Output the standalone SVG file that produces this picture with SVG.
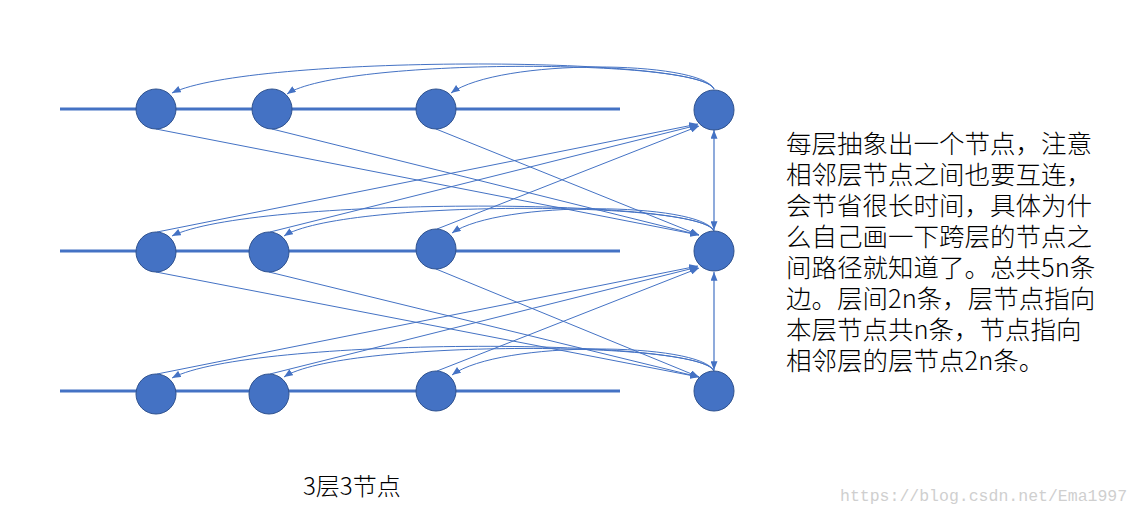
<svg xmlns="http://www.w3.org/2000/svg" width="1141" height="517" viewBox="0 0 1141 517">
<style>
.rail{stroke:#4472C4;stroke-width:3;fill:none}
.node{fill:#4472C4;stroke:#2F528F;stroke-width:1}
.edge{stroke:#4472C4;stroke-width:1;fill:none;marker-end:url(#ah)}
.both{stroke:#4472C4;stroke-width:1.2;fill:none;marker-end:url(#ah);marker-start:url(#ahs)}
.note{font-family:"Noto Sans CJK SC","Noto Sans",sans-serif;font-size:25.5px;font-weight:300;fill:#000}
.cap{font-family:"Noto Sans CJK SC","Noto Sans",sans-serif;font-size:24px;font-weight:300;fill:#000}
.wm{font-family:"Liberation Mono",monospace;font-size:16.5px;fill:#cfcfcf}
</style>
<defs>
<marker id="ah" viewBox="0 0 10 8" refX="10" refY="4" markerWidth="9" markerHeight="7" markerUnits="userSpaceOnUse" orient="auto"><path d="M0,0 L10,4 L0,8 z" fill="#4472C4"/></marker>
<marker id="ahs" viewBox="0 0 10 8" refX="10" refY="4" markerWidth="9" markerHeight="7" markerUnits="userSpaceOnUse" orient="auto-start-reverse"><path d="M0,0 L10,4 L0,8 z" fill="#4472C4"/></marker>
</defs>
<rect width="1141" height="517" fill="#fff"/>
<g id="rails">
<line class="rail" x1="60" y1="109" x2="620" y2="109"/>
<line class="rail" x1="60" y1="251" x2="620" y2="251"/>
<line class="rail" x1="60" y1="391" x2="620" y2="391"/>
</g>
<g id="connectors">
<path class="edge" d="M714,89 C700,55 250,55 172,93"/>
<path class="edge" d="M714,89 C700,58 340,58 287,94"/>
<path class="edge" d="M714,89 C700,60 500,58 451,93"/>
<path class="edge" d="M714,231 C700,197 250,197 172,236"/>
<path class="edge" d="M714,231 C700,200 340,200 284,236"/>
<path class="edge" d="M714,231 C700,202 500,200 452,233"/>
<path class="edge" d="M714,371 C700,337 250,337 172,378"/>
<path class="edge" d="M714,371 C700,340 340,340 284,377"/>
<path class="edge" d="M714,371 C700,342 500,340 452,375"/>
<line class="edge" x1="156" y1="129" x2="699" y2="235"/>
<line class="edge" x1="272" y1="129" x2="699" y2="235"/>
<line class="edge" x1="436" y1="129" x2="699" y2="235"/>
<line class="edge" x1="157" y1="232" x2="698" y2="124"/>
<line class="edge" x1="270" y1="232" x2="698" y2="125"/>
<line class="edge" x1="437" y1="229" x2="699" y2="126"/>
<line class="edge" x1="156" y1="272" x2="699" y2="377"/>
<line class="edge" x1="269" y1="272" x2="699" y2="377"/>
<line class="edge" x1="436" y1="269" x2="699" y2="377"/>
<line class="edge" x1="157" y1="374" x2="698" y2="266"/>
<line class="edge" x1="270" y1="374" x2="698" y2="267"/>
<line class="edge" x1="437" y1="371" x2="699" y2="268"/>
<line class="both" x1="714" y1="130" x2="714" y2="230"/>
<line class="both" x1="714" y1="272" x2="714" y2="370"/>
</g>
<g id="n11"><circle class="node" cx="156" cy="109" r="20"/></g>
<g id="n12"><circle class="node" cx="272" cy="109" r="20"/></g>
<g id="n13"><circle class="node" cx="436" cy="109" r="20"/></g>
<g id="L1"><circle class="node" cx="714" cy="110" r="20"/></g>
<g id="n21"><circle class="node" cx="156" cy="252" r="20"/></g>
<g id="n22"><circle class="node" cx="269" cy="252" r="20"/></g>
<g id="n23"><circle class="node" cx="436" cy="249" r="20"/></g>
<g id="L2"><circle class="node" cx="714" cy="251" r="20"/></g>
<g id="n31"><circle class="node" cx="156" cy="394" r="20"/></g>
<g id="n32"><circle class="node" cx="269" cy="394" r="20"/></g>
<g id="n33"><circle class="node" cx="436" cy="391" r="20"/></g>
<g id="L3"><circle class="node" cx="714" cy="391" r="20"/></g>
<g id="note">
<text class="note" x="786" y="153">每层抽象出一个节点，注意<tspan x="786" dy="31">相邻层节点之间也要互连，</tspan><tspan x="786" dy="31">会节省很长时间，具体为什</tspan><tspan x="786" dy="31">么自己画一下跨层的节点之</tspan><tspan x="786" dy="31">间路径就知道了。总共5n条</tspan><tspan x="786" dy="31">边。层间2n条，层节点指向</tspan><tspan x="786" dy="31">本层节点共n条，节点指向</tspan><tspan x="786" dy="31">相邻层的层节点2n条。</tspan></text>
</g>
<g id="caption"><text class="cap" x="303" y="495">3层3节点</text></g>
<g id="watermark"><text class="wm" x="840" y="501">https://blog.csdn.net/Ema1997</text></g>
</svg>
